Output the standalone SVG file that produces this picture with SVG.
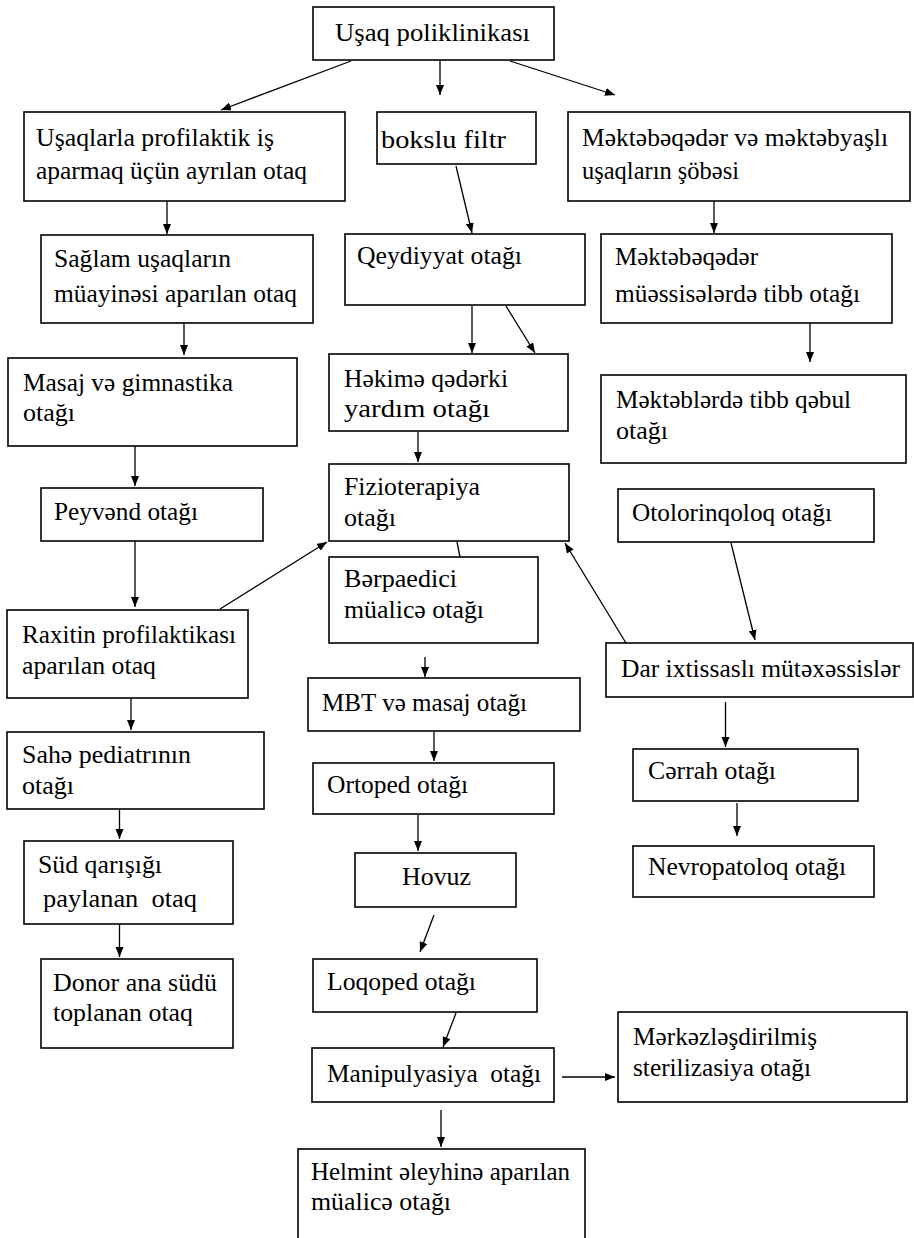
<svg xmlns="http://www.w3.org/2000/svg" width="914" height="1238" viewBox="0 0 914 1238">
<style>
rect{fill:#fff;stroke:#000;stroke-width:1.6}
text{font-family:"Liberation Serif","DejaVu Serif",serif;font-size:26px;fill:#000}
.c line{stroke:#000;stroke-width:1.3;fill:none}
</style>
<defs>
<marker id="ah" markerUnits="userSpaceOnUse" markerWidth="11" markerHeight="9" refX="10" refY="4" orient="auto">
<path d="M0,0 L10,4 L0,8 z" fill="#000"/>
</marker>
</defs>
<rect x="0" y="0" width="914" height="1238" style="stroke:none"/>
<g id="n1"><rect x="313" y="7" width="241" height="53"/><text x="335" y="41" textLength="195" lengthAdjust="spacingAndGlyphs">Uşaq poliklinikası</text></g>
<g id="n2"><rect x="24" y="112" width="321" height="89"/><text x="36" y="146" textLength="238" lengthAdjust="spacingAndGlyphs">Uşaqlarla profilaktik iş</text><text x="36" y="179" textLength="271" lengthAdjust="spacingAndGlyphs">aparmaq üçün ayrılan otaq</text></g>
<g id="n3"><rect x="377" y="112" width="159" height="52"/><text x="381" y="148" textLength="125" lengthAdjust="spacingAndGlyphs">bokslu filtr</text></g>
<g id="n4"><rect x="568" y="112" width="342" height="89"/><text x="582" y="146" textLength="306" lengthAdjust="spacingAndGlyphs">Məktəbəqədər və məktəbyaşlı</text><text x="582" y="179" textLength="157" lengthAdjust="spacingAndGlyphs">uşaqların şöbəsi</text></g>
<g id="n5"><rect x="41" y="235" width="272" height="88"/><text x="54" y="267" textLength="177" lengthAdjust="spacingAndGlyphs">Sağlam uşaqların</text><text x="54" y="302" textLength="243" lengthAdjust="spacingAndGlyphs">müayinəsi aparılan otaq</text></g>
<g id="n6"><rect x="345" y="234" width="240" height="71"/><text x="357" y="264" textLength="165" lengthAdjust="spacingAndGlyphs">Qeydiyyat otağı</text></g>
<g id="n7"><rect x="601" y="234" width="291" height="89"/><text x="615" y="265" textLength="143" lengthAdjust="spacingAndGlyphs">Məktəbəqədər</text><text x="615" y="302" textLength="245" lengthAdjust="spacingAndGlyphs">müəssisələrdə tibb otağı</text></g>
<g id="n8"><rect x="8" y="358" width="289" height="88"/><text x="23" y="391" textLength="210" lengthAdjust="spacingAndGlyphs">Masaj və gimnastika</text><text x="23" y="421">otağı</text></g>
<g id="n9"><rect x="329" y="354" width="239" height="77"/><text x="344" y="387" textLength="164" lengthAdjust="spacingAndGlyphs">Həkimə qədərki</text><text x="344" y="417" textLength="146" lengthAdjust="spacingAndGlyphs">yardım otağı</text></g>
<g id="n10"><rect x="601" y="375" width="305" height="88"/><text x="616" y="408" textLength="235" lengthAdjust="spacingAndGlyphs">Məktəblərdə tibb qəbul</text><text x="616" y="439">otağı</text></g>
<g id="n11"><rect x="329" y="464" width="240" height="77"/><text x="344" y="495" textLength="136" lengthAdjust="spacingAndGlyphs">Fizioterapiya</text><text x="344" y="526">otağı</text></g>
<g id="n12"><rect x="41" y="488" width="222" height="53"/><text x="54" y="520" textLength="144" lengthAdjust="spacingAndGlyphs">Peyvənd otağı</text></g>
<g id="n13"><rect x="618" y="489" width="256" height="53"/><text x="632" y="521" textLength="200" lengthAdjust="spacingAndGlyphs">Otolorinqoloq otağı</text></g>
<g id="n14"><rect x="329" y="557" width="209" height="86"/><text x="344" y="587" textLength="113" lengthAdjust="spacingAndGlyphs">Bərpaedici</text><text x="344" y="618" textLength="140" lengthAdjust="spacingAndGlyphs">müalicə otağı</text></g>
<g id="n15"><rect x="7" y="610" width="241" height="88"/><text x="22" y="643" textLength="214" lengthAdjust="spacingAndGlyphs">Raxitin profilaktikası</text><text x="22" y="674" textLength="134" lengthAdjust="spacingAndGlyphs">aparılan otaq</text></g>
<g id="n16"><rect x="606" y="643" width="307" height="54"/><text x="621" y="677" textLength="279" lengthAdjust="spacingAndGlyphs">Dar ixtissaslı mütəxəssislər</text></g>
<g id="n17"><rect x="308" y="678" width="272" height="53"/><text x="322" y="711" textLength="205" lengthAdjust="spacingAndGlyphs">MBT və masaj otağı</text></g>
<g id="n18"><rect x="7" y="732" width="257" height="77"/><text x="22" y="763" textLength="169" lengthAdjust="spacingAndGlyphs">Sahə pediatrının</text><text x="22" y="794">otağı</text></g>
<g id="n19"><rect x="313" y="763" width="241" height="51"/><text x="327" y="793" textLength="141" lengthAdjust="spacingAndGlyphs">Ortoped otağı</text></g>
<g id="n20"><rect x="633" y="749" width="225" height="52"/><text x="648" y="779" textLength="128" lengthAdjust="spacingAndGlyphs">Cərrah otağı</text></g>
<g id="n21"><rect x="24" y="841" width="209" height="83"/><text x="38" y="873" textLength="124" lengthAdjust="spacingAndGlyphs">Süd qarışığı</text><text x="43" y="907" xml:space="preserve" textLength="154" lengthAdjust="spacingAndGlyphs">paylanan  otaq</text></g>
<g id="n22"><rect x="355" y="853" width="161" height="54"/><text x="402" y="885" textLength="69" lengthAdjust="spacingAndGlyphs">Hovuz</text></g>
<g id="n23"><rect x="633" y="846" width="241" height="51"/><text x="648" y="875" textLength="198" lengthAdjust="spacingAndGlyphs">Nevropatoloq otağı</text></g>
<g id="n24"><rect x="41" y="959" width="192" height="89"/><text x="53" y="991" textLength="164" lengthAdjust="spacingAndGlyphs">Donor ana südü</text><text x="53" y="1021" textLength="140" lengthAdjust="spacingAndGlyphs">toplanan otaq</text></g>
<g id="n25"><rect x="313" y="959" width="224" height="53"/><text x="327" y="990" textLength="149" lengthAdjust="spacingAndGlyphs">Loqoped otağı</text></g>
<g id="n26"><rect x="312" y="1048" width="242" height="54"/><text x="327" y="1082" xml:space="preserve" textLength="214" lengthAdjust="spacingAndGlyphs">Manipulyasiya  otağı</text></g>
<g id="n27"><rect x="618" y="1012" width="289" height="90"/><text x="633" y="1045" textLength="184" lengthAdjust="spacingAndGlyphs">Mərkəzləşdirilmiş</text><text x="633" y="1076" textLength="178" lengthAdjust="spacingAndGlyphs">sterilizasiya otağı</text></g>
<g id="n28"><rect x="298" y="1149" width="287" height="100"/><text x="311" y="1180" textLength="259" lengthAdjust="spacingAndGlyphs">Helmint əleyhinə aparılan</text><text x="311" y="1210" textLength="140" lengthAdjust="spacingAndGlyphs">müalicə otağı</text></g>
<g id="connectors" class="c">
<line x1="351" y1="61" x2="221" y2="110" marker-end="url(#ah)"/>
<line x1="440" y1="61" x2="440" y2="95" marker-end="url(#ah)"/>
<line x1="510" y1="61" x2="615" y2="95" marker-end="url(#ah)"/>
<line x1="456" y1="166" x2="472" y2="233" marker-end="url(#ah)"/>
<line x1="167" y1="201" x2="167" y2="234" marker-end="url(#ah)"/>
<line x1="714" y1="201" x2="714" y2="233" marker-end="url(#ah)"/>
<line x1="184" y1="323" x2="184" y2="355" marker-end="url(#ah)"/>
<line x1="472" y1="306" x2="472" y2="353" marker-end="url(#ah)"/>
<line x1="506" y1="306" x2="535" y2="353" marker-end="url(#ah)"/>
<line x1="810" y1="323" x2="810" y2="362" marker-end="url(#ah)"/>
<line x1="418" y1="432" x2="418" y2="462" marker-end="url(#ah)"/>
<line x1="135" y1="446" x2="135" y2="486" marker-end="url(#ah)"/>
<line x1="135" y1="541" x2="135" y2="607" marker-end="url(#ah)"/>
<line x1="220" y1="609" x2="327" y2="542" marker-end="url(#ah)"/>
<line x1="457" y1="542" x2="460" y2="557"/>
<line x1="626" y1="643" x2="565" y2="543" marker-end="url(#ah)"/>
<line x1="731" y1="543" x2="755" y2="640" marker-end="url(#ah)"/>
<line x1="425" y1="657" x2="425" y2="677" marker-end="url(#ah)"/>
<line x1="131" y1="698" x2="131" y2="730" marker-end="url(#ah)"/>
<line x1="725.5" y1="702" x2="725.5" y2="747" marker-end="url(#ah)"/>
<line x1="434" y1="732" x2="434" y2="761" marker-end="url(#ah)"/>
<line x1="119.5" y1="810" x2="119.5" y2="839" marker-end="url(#ah)"/>
<line x1="418" y1="815" x2="418" y2="851" marker-end="url(#ah)"/>
<line x1="737" y1="803" x2="737" y2="836" marker-end="url(#ah)"/>
<line x1="119.5" y1="924" x2="119.5" y2="957" marker-end="url(#ah)"/>
<line x1="434" y1="915" x2="420" y2="952" marker-end="url(#ah)"/>
<line x1="456" y1="1013" x2="443" y2="1047" marker-end="url(#ah)"/>
<line x1="562" y1="1077" x2="615" y2="1077" marker-end="url(#ah)"/>
<line x1="441" y1="1110" x2="441" y2="1147" marker-end="url(#ah)"/>
</g>
</svg>
